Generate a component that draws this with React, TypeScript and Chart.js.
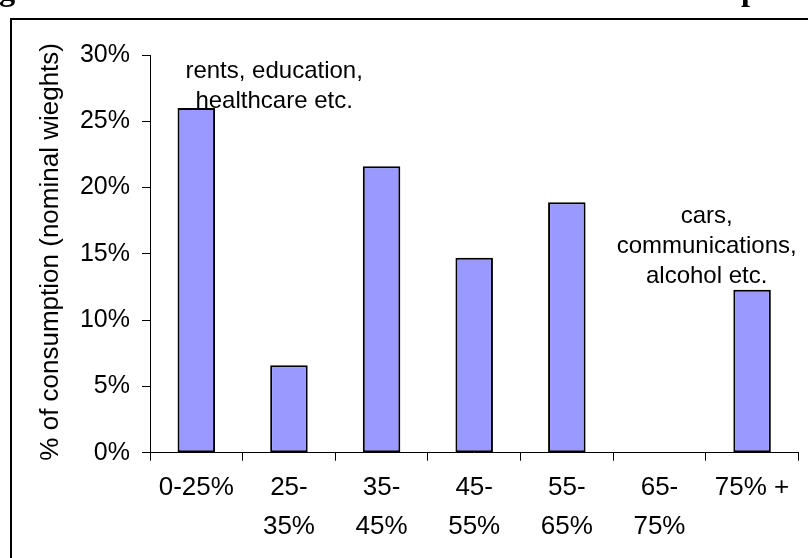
import { useEffect, useRef } from "react";
import { Chart, registerables } from "chart.js";

Chart.register(...registerables);

// Elasticity bands on the x axis (multi-line where the label wraps)
const bands: (string | string[])[] = [
  "0-25%",
  ["25-", "35%"],
  ["35-", "45%"],
  ["45-", "55%"],
  ["55-", "65%"],
  ["65-", "75%"],
  "75% +",
];

// Share of consumption in each band, in percent of nominal weights
const shares = [26.0, 6.6, 21.6, 14.7, 18.9, 0, 12.3];

const yMax = 30;
const yStep = 5;

const yTitle = "% of consumption (nominal wieghts)";
const pageTitle = "Figure 3: Basket Shares in each Tradable Content Group";

// Text notes placed in data space: x = band index, y = percent of the first baseline
const lowNoteLines = ["rents, education,", "healthcare etc."];
const lowNoteX = 0.84;
const lowNoteY = 28.3;
const highNoteLines = ["cars,", "communications,", "alcohol etc."];
const highNoteX = 5.51;
const highNoteY = 17.3;

const SANS = "'Liberation Sans', Arial, sans-serif";
const SERIF = "'Liberation Serif', 'Times New Roman', serif";

const decorPlugin = {
  id: "decor",
  beforeDraw(chart: any) {
    const { ctx, width, height } = chart;
    ctx.save();
    ctx.fillStyle = "#fff";
    ctx.fillRect(0, 0, width, height);

    // outer frame
    ctx.strokeStyle = "#000";
    ctx.lineWidth = 2;
    ctx.strokeRect(11, 19, width + 40, height + 40);

    // page heading sitting above the frame; only its descenders reach the page
    ctx.fillStyle = "#000";
    ctx.textAlign = "left";
    ctx.textBaseline = "alphabetic";
    ctx.font = `bold 30px ${SERIF}`;
    const lead0 = ctx.measureText("Fi").width;
    const span0 = ctx.measureText(pageTitle).width - lead0;
    const size = (30 * 760) / span0;
    ctx.font = `bold ${size}px ${SERIF}`;
    const lead = ctx.measureText("Fi").width;
    ctx.fillText(pageTitle, -lead - 1, -0.5);
    ctx.restore();
  },
  afterDraw(chart: any) {
    const { ctx } = chart;
    const xs = chart.scales.x;
    const ys = chart.scales.y;
    ctx.save();
    ctx.fillStyle = "#000";

    // y axis title
    ctx.font = `26px ${SANS}`;
    ctx.textAlign = "center";
    ctx.textBaseline = "middle";
    ctx.translate(51, (chart.chartArea.top + chart.chartArea.bottom) / 2 - 2);
    ctx.rotate(-Math.PI / 2);
    ctx.fillText(yTitle, 0, 0);
    ctx.setTransform(1, 0, 0, 1, 0, 0);

    // notes
    ctx.font = `24px ${SANS}`;
    ctx.textAlign = "center";
    ctx.textBaseline = "alphabetic";
    const drawNote = (lines: string[], xv: number, yv: number) => {
      const px = xs.getPixelForValue(xv);
      const py = ys.getPixelForValue(yv);
      lines.forEach((t, i) => ctx.fillText(t, px, py + i * 30));
    };
    drawNote(lowNoteLines, lowNoteX, lowNoteY);
    drawNote(highNoteLines, highNoteX, highNoteY);
    ctx.restore();
  },
};

export default function App() {
  const ref = useRef<HTMLCanvasElement>(null);

  useEffect(() => {
    if (!ref.current) return;
    const chart = new Chart(ref.current, {
      type: "bar",
      data: {
        labels: bands as any,
        datasets: [
          {
            data: shares,
            backgroundColor: "#9999FF",
            borderColor: "#000",
            borderWidth: 2,
            borderSkipped: false,
            barPercentage: 0.405,
            categoryPercentage: 1,
          },
        ],
      },
      options: {
        responsive: false,
        animation: false,
        devicePixelRatio: 1,
        layout: { padding: { left: 0, right: 9.6, top: 55, bottom: 0 } },
        plugins: {
          legend: { display: false },
          tooltip: { enabled: false },
          title: { display: false },
        },
        scales: {
          x: {
            grid: {
              offset: true,
              drawOnChartArea: false,
              drawTicks: true,
              tickLength: 8,
              color: "#000",
            },
            border: { display: true, color: "#000", width: 1 },
            ticks: {
              color: "#000",
              font: { family: SANS, size: 26, lineHeight: 1.5 },
              padding: 8,
              maxRotation: 0,
              autoSkip: false,
            },
            afterFit: (s: any) => {
              s.height = 105.3;
              s.paddingLeft = 0;
              s.paddingRight = 0;
            },
          },
          y: {
            min: 0,
            max: yMax,
            ticks: {
              stepSize: yStep,
              color: "#000",
              font: { family: SANS, size: 25 },
              padding: 12,
              callback: (v: any) => `${v}%`,
            },
            grid: {
              drawOnChartArea: false,
              drawTicks: true,
              tickLength: 8,
              color: "#000",
            },
            border: { display: true, color: "#000", width: 1 },
            afterFit: (s: any) => {
              s.width = 150;
              s.paddingTop = 0;
              s.paddingBottom = 0;
            },
          },
        },
      },
      plugins: [decorPlugin],
    });
    return () => chart.destroy();
  }, []);

  return (
    <canvas
      ref={ref}
      width={808}
      height={558}
      style={{ position: "fixed", left: 0, top: 0, width: 808, height: 558, display: "block" }}
    />
  );
}
